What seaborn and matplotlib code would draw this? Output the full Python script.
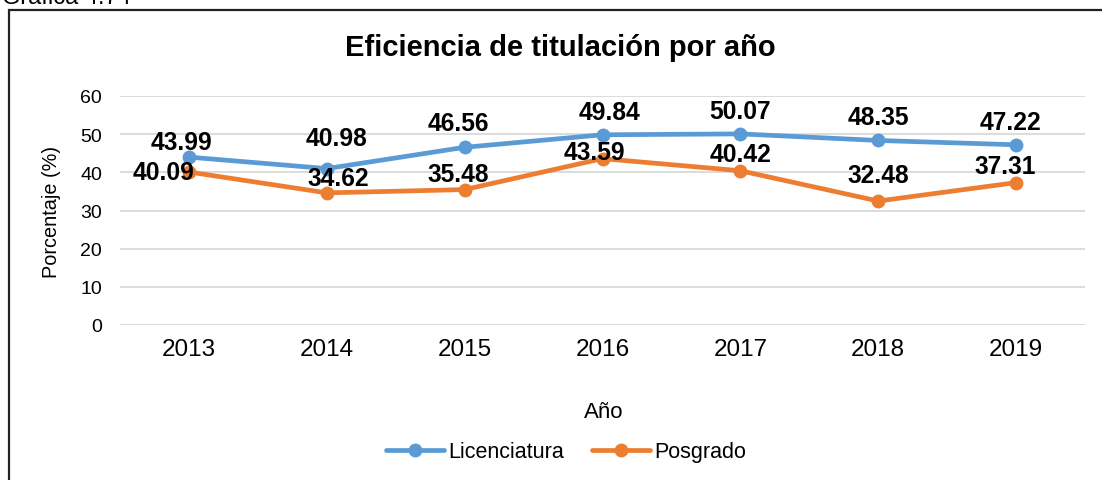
import matplotlib
matplotlib.use("Agg")
import matplotlib.pyplot as plt
from matplotlib.patches import Rectangle
import seaborn as sns
import pandas as pd

# ---- data ----
years = [2013, 2014, 2015, 2016, 2017, 2018, 2019]
licenciatura = [43.99, 40.98, 46.56, 49.84, 50.07, 48.35, 47.22]
posgrado = [40.09, 34.62, 35.48, 43.59, 40.42, 32.48, 37.31]
series_names = ["Licenciatura", "Posgrado"]
y_ticks = [0, 10, 20, 30, 40, 50, 60]
title = "Eficiencia de titulación por año"
x_label = "Año"
y_label = "Porcentaje (%)"
caption = "Gráfica 4.74"

# label offsets in pixels (styling)
lic_off = [(-7, 15), (10, 31), (-6, 24), (7, 23), (0, 23), (0, 23), (-6, 23)]
pos_off = [(-25, 0), (12, 15), (-6, 16), (-8, 7), (0, 17), (0, 26), (-11, 17)]

df = pd.DataFrame({
    "Año": years * 2,
    "valor": licenciatura + posgrado,
    "serie": [series_names[0]] * len(years) + [series_names[1]] * len(years),
})

sns.set_style("white")
plt.rcParams["font.family"] = ["Liberation Sans", "DejaVu Sans"]
for k in ["text.color", "axes.labelcolor", "xtick.color", "ytick.color"]:
    plt.rcParams[k] = "black"

colors = {"Licenciatura": "#5B9BD5", "Posgrado": "#ED7D31"}

fig = plt.figure(figsize=(11.02, 4.81), dpi=100)
ax = fig.add_axes([120 / 1102, 1 - 326 / 481, (1085 - 120) / 1102, (326 - 97) / 481])

sns.lineplot(data=df, x="Año", y="valor", hue="serie", palette=colors,
             marker="o", markersize=10, markeredgewidth=0, linewidth=3.4,
             ax=ax, legend=True)

ax.set_xlim(years[0] - 0.5, years[-1] + 0.5)
ax.set_ylim(0, 60)
ax.set_yticks(y_ticks)
ax.set_xticks(years)
ax.set_xticklabels([str(y) for y in years], fontsize=17.5)
ax.tick_params(axis="y", labelsize=14, length=0, pad=13)
ax.tick_params(axis="x", length=0, pad=9)
ax.grid(axis="y", color="#D9D9D9", linewidth=1.3)
ax.grid(axis="x", visible=False)
for s in ax.spines.values():
    s.set_visible(False)

ax.set_ylabel(y_label, fontsize=14.3, labelpad=14)
ax.set_xlabel("")
fig.text(604 / 1102, 1 - 412 / 481, x_label, ha="center", va="center", fontsize=16)

for x, v, o in zip(years, licenciatura, lic_off):
    ax.annotate(f"{v:.2f}", (x, v), xytext=o, textcoords="offset pixels",
                ha="center", va="center", fontsize=17.7, fontweight="bold", color="black")
for x, v, o in zip(years, posgrado, pos_off):
    ax.annotate(f"{v:.2f}", (x, v), xytext=o, textcoords="offset pixels",
                ha="center", va="center", fontsize=17.7, fontweight="bold", color="black")

fig.text(560 / 1102, 1 - 48 / 481, title, ha="center", va="center",
         fontsize=21, fontweight="bold")

handles, labels = ax.get_legend_handles_labels()
ax.legend(handles, labels, loc="center", bbox_to_anchor=(566 / 1102, 1 - 453 / 481),
          bbox_transform=fig.transFigure, ncol=2, frameon=False, fontsize=15.5,
          handlelength=2.7, columnspacing=1.3, handletextpad=0.2)

# outer frame (partially cropped)
fig.patches.append(Rectangle((8.5 / 1102, -0.2), 1.5, 1.2 - 10.5 / 481,
                             transform=fig.transFigure, fill=False,
                             edgecolor="#222222", linewidth=1.6, zorder=0))
fig.text(2 / 1102, 1 - 4 / 481, caption, ha="left", va="baseline", fontsize=17)

fig.savefig("out.png", dpi=100)
